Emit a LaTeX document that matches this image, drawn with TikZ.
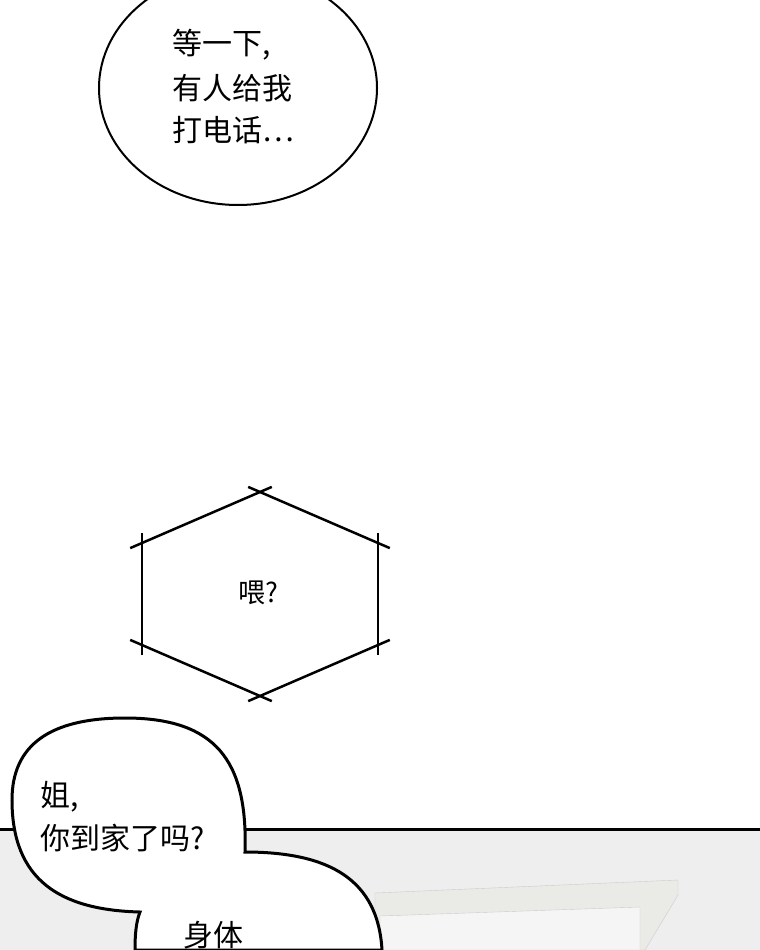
\documentclass[tikz,border=0pt]{standalone}
\usepackage{fontspec}
\usetikzlibrary{calc}
\newfontfamily\cjk{Noto Sans CJK SC}
\begin{document}
\begin{tikzpicture}[x=1pt,y=-1pt,txt/.style={font=\cjk\fontsize{30}{40}\selectfont,anchor=west,inner sep=0pt}]
\useasboundingbox (0,0) rectangle (760,950);
\fill[white] (0,0) rectangle (760,950);
% bottom panel
\fill[gray!13] (0,829) rectangle (760,950);
\draw[line width=3pt] (0,829) -- (760,829);
\fill[yellow!6!gray!20,draw=gray!40] (375,893) -- (678,880) -- (678,895) -- (645,950) -- (375,950) -- cycle;
\fill[gray!8,draw=gray!40] (380,916) -- (640,907) -- (640,950) -- (380,950) -- cycle;
% bubble 1
\draw[line width=2pt,fill=white] (238,88) ellipse [x radius=139, y radius=117];
\node[txt] (a1) at (172,45) {等一下,};
\node[txt] (a2) at (172,88) {有人给我};
\node[txt] (a3) at (172,130) {打电话⋯};
% hexagon
\begin{scope}[line width=2.5pt]
\coordinate (t) at (260,492); \coordinate (tr) at (378,543); \coordinate (br) at (378,645);
\coordinate (b) at (260,696); \coordinate (bl) at (142,645); \coordinate (tl) at (142,543);
\draw ($(t)!-0.1!(tr)$) -- ($(tr)!-0.1!(t)$);
\draw ($(tr)!-0.1!(br)$) -- ($(br)!-0.1!(tr)$);
\draw ($(br)!-0.1!(b)$) -- ($(b)!-0.1!(br)$);
\draw ($(b)!-0.1!(bl)$) -- ($(bl)!-0.1!(b)$);
\draw ($(bl)!-0.1!(tl)$) -- ($(tl)!-0.1!(bl)$);
\draw ($(tl)!-0.1!(t)$) -- ($(t)!-0.1!(tl)$);
\end{scope}
\node[txt,anchor=center,font=\cjk\fontsize{27}{30}\selectfont] (h) at (258,593) {喂?};
% bubble 2
\draw[line width=3pt,fill=white] (135,950) .. controls (135,935) and (136,922) .. (140,912)
 .. controls (60,910) and (12,880) .. (12,800)
 .. controls (12,745) and (50,718) .. (125,718)
 .. controls (215,718) and (248,760) .. (245,852)
 .. controls (330,852) and (378,880) .. (382,950) -- cycle;
\node[txt] (c1) at (40,797) {姐,};
\node[txt] (c2) at (40,838) {你到家了吗?};
\node[txt] (c3) at (183,935) {身体};
\end{tikzpicture}
\end{document}
